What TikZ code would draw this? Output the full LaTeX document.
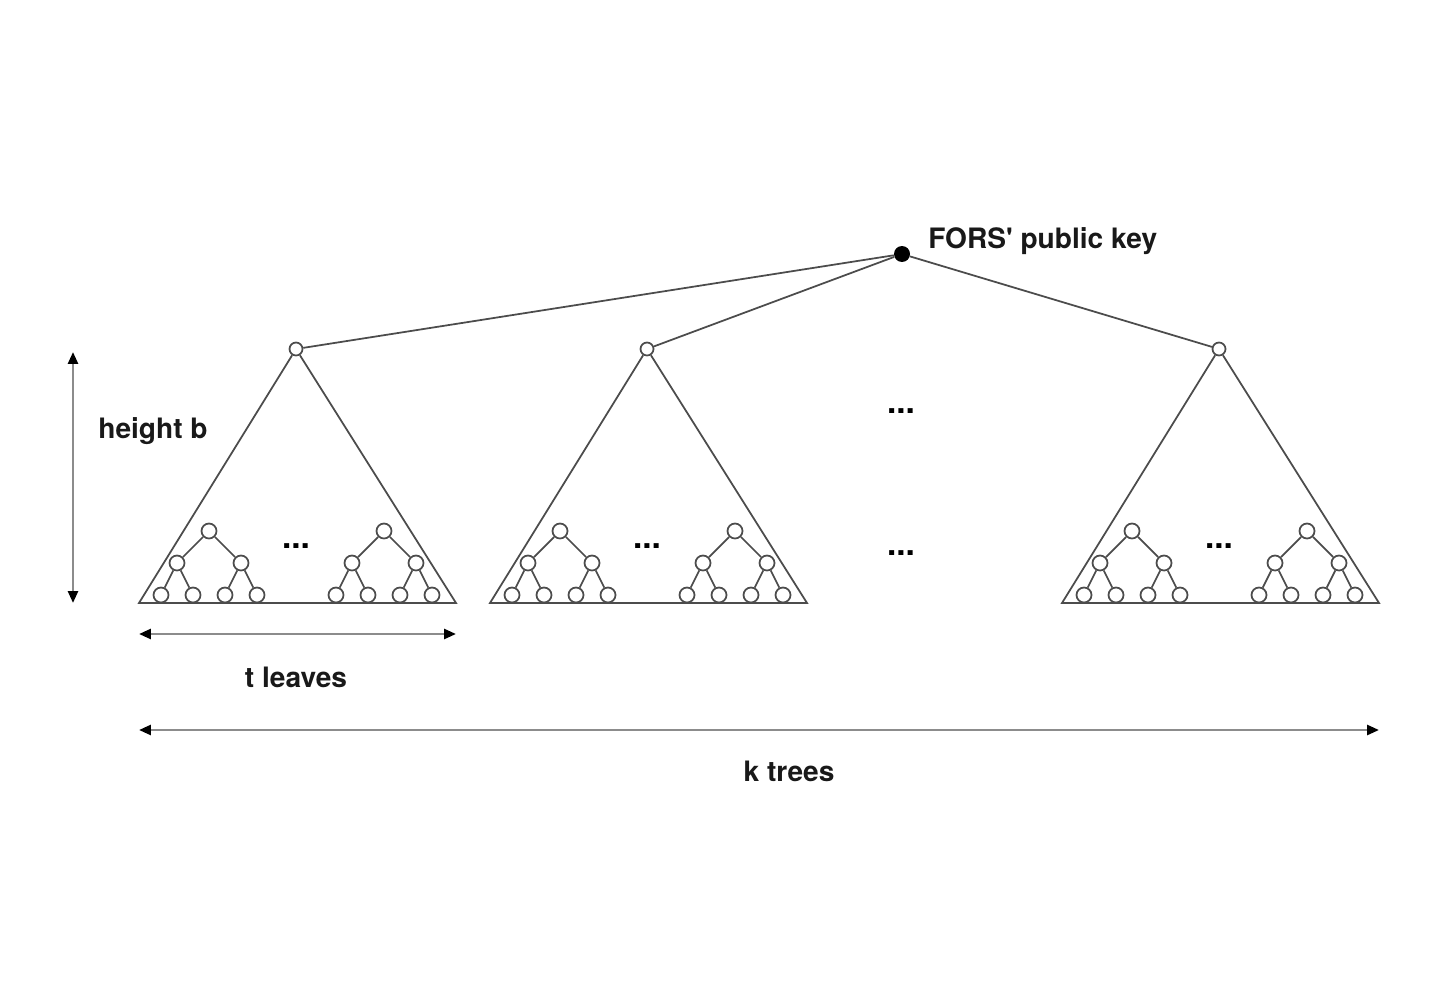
\documentclass[tikz,border=0pt]{standalone}
\usepackage{fontspec}
\setmainfont{TeX Gyre Heros}
\usetikzlibrary{arrows.meta}

\begin{document}
\begin{tikzpicture}[x=0.02cm,y=-0.02cm,
  leaf/.style={circle,draw=black!70,line width=1pt,fill=white,minimum size=0.3cm,inner sep=0pt},
  top/.style={circle,draw=black!70,line width=1pt,fill=white,minimum size=0.26cm,inner sep=0pt},
  edge/.style={draw=black!70,line width=1pt},
  dim/.style={draw=black!45,line width=1.5pt,{Triangle[length=0.24cm,width=0.2cm,color=black]}-{Triangle[length=0.24cm,width=0.2cm,color=black]}},
  lbl/.style={font=\fontsize{16}{19}\bfseries\selectfont,text=black!90,inner sep=0pt},
  dots/.style={font=\fontsize{19}{22}\bfseries\selectfont,inner sep=0pt}]
\useasboundingbox (0,0) rectangle (1440,1000);
\node[circle,fill=black,minimum size=0.32cm,inner sep=0pt] (root) at (902,254) {};
\node[lbl,anchor=west] (key) at (928,241) {FORS\textquotesingle\ public key};
\foreach \t/\ax in {A/296,B/647,C/1219} {
  \node[top] (\t-top) at (\ax,349) {};
  \coordinate (\t-bl) at ({\ax-157},603);
  \coordinate (\t-br) at ({\ax+160},603);
  \draw[edge] (\t-top) -- (\t-bl) -- (\t-br) -- (\t-top);
  \draw[edge] (root) -- (\t-top);
  \node[dots] (\t-dots) at ({\ax},546) {...};
  \foreach \s/\dx in {1/-87,2/88} {
    \node[leaf] (\t\s) at ({\ax+\dx},531) {};
    \node[leaf] (\t\s-l) at ({\ax+\dx-32},563) {};
    \node[leaf] (\t\s-r) at ({\ax+\dx+32},563) {};
    \node[leaf] (\t\s-l1) at ({\ax+\dx-48},595) {};
    \node[leaf] (\t\s-l2) at ({\ax+\dx-16},595) {};
    \node[leaf] (\t\s-r1) at ({\ax+\dx+16},595) {};
    \node[leaf] (\t\s-r2) at ({\ax+\dx+48},595) {};
    \draw[edge] (\t\s) -- (\t\s-l);
    \draw[edge] (\t\s) -- (\t\s-r);
    \draw[edge] (\t\s-l) -- (\t\s-l1);
    \draw[edge] (\t\s-l) -- (\t\s-l2);
    \draw[edge] (\t\s-r) -- (\t\s-r1);
    \draw[edge] (\t\s-r) -- (\t\s-r2);
  }
}
\node[dots] (mid-up) at (901,411) {...};
\node[dots] (mid-low) at (901,553) {...};
% dimensions
\coordinate (h-top) at (73,352);
\coordinate (h-bot) at (73,603);
\draw[dim] (h-top) -- (h-bot);
\node[lbl] (height) at (153,431) {height b};
\coordinate (t-left) at (139,634);
\coordinate (t-right) at (456,634);
\draw[dim] (t-left) -- (t-right);
\node[lbl] (leaves) at (296,677) {t leaves};
\coordinate (k-left) at (139,730);
\coordinate (k-right) at (1379,730);
\draw[dim] (k-left) -- (k-right);
\node[lbl] (trees) at (789,771) {k trees};
\end{tikzpicture}
\end{document}
